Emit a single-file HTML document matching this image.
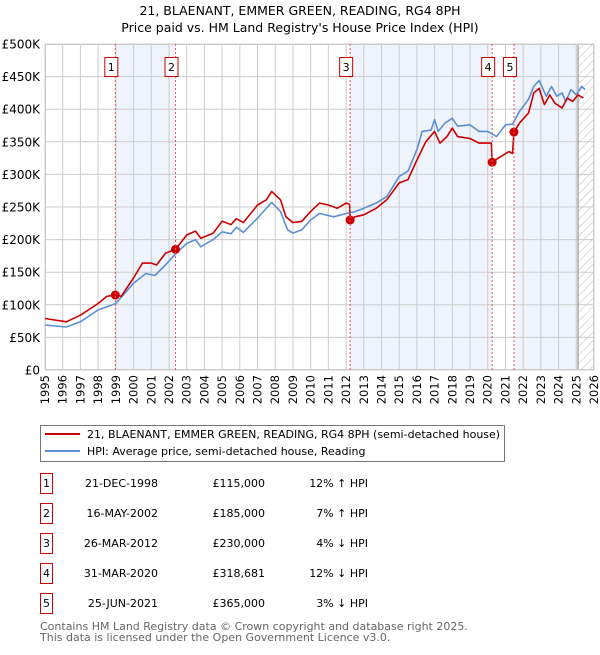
<!DOCTYPE html>
<html><head><meta charset="utf-8"><style>
body{margin:0;background:#fff;font-family:"Liberation Sans","DejaVu Sans",sans-serif;}
svg text{font-family:"DejaVu Sans","Liberation Sans",sans-serif;}
</style></head><body>
<svg id="chart" width="600" height="650" viewBox="0 0 600 650" xmlns="http://www.w3.org/2000/svg">
<text x="300" y="15" text-anchor="middle" font-size="12.5" fill="#000">21, BLAENANT, EMMER GREEN, READING, RG4 8PH</text>
<text x="300" y="32" text-anchor="middle" font-size="12.5" fill="#000">Price paid vs. HM Land Registry's House Price Index (HPI)</text>
<defs><pattern id="hatch" width="6" height="6" patternUnits="userSpaceOnUse" patternTransform="rotate(45)"><line x1="0" y1="0" x2="0" y2="6" stroke="#bbb" stroke-width="1"/></pattern></defs>
<g id="bands"></g><g id="grid"></g><g id="axes"></g><g id="series"></g><g id="markers"></g>
<g>
<rect x="40.5" y="425.5" width="464" height="36" fill="#fff" stroke="#777"/>
<line x1="45" y1="434" x2="80" y2="434" stroke="#cc0000" stroke-width="2"/>
<text x="87" y="438" font-size="11">21, BLAENANT, EMMER GREEN, READING, RG4 8PH (semi-detached house)</text>
<line x1="45" y1="451" x2="80" y2="451" stroke="#5b8fd4" stroke-width="2"/>
<text x="87" y="455" font-size="11">HPI: Average price, semi-detached house, Reading</text>
</g>
<g id="table"></g>
<text x="40" y="630" font-size="11" fill="#666">Contains HM Land Registry data © Crown copyright and database right 2025.</text>
<text x="40" y="641" font-size="11" fill="#666">This data is licensed under the Open Government Licence v3.0.</text>
</svg>
<script>
const hpiT=[1995,1996.2,1997,1998,1999,2000,2000.7,2001.2,2001.8,2002.4,2003,2003.5,2003.8,2004.5,2005,2005.5,2005.8,2006.2,2007,2007.8,2008.3,2008.7,2009,2009.5,2010,2010.5,2011.3,2012,2012.5,2013,2013.7,2014.3,2015,2015.5,2016,2016.3,2016.8,2017,2017.2,2017.6,2018,2018.3,2019,2019.5,2020,2020.5,2021,2021.4,2021.8,2022.3,2022.6,2022.9,2023.3,2023.6,2023.9,2024.2,2024.4,2024.7,2025.0,2025.3,2025.5];
const hpiV=[69,66,74,92,102,133,148,145,161,179,194,200,189,200,212,209,219,211,233,257,243,215,210,215,230,240,235,240,243,248,256,266,297,305,338,366,368,384,366,379,386,374,376,366,366,358,376,377,397,415,435,444,420,435,420,425,412,430,422,435,430];
const redT=[1995,1996.2,1997,1998,1998.5,1998.97,1999.3,2000,2000.5,2001,2001.3,2001.8,2002.37,2003,2003.5,2003.8,2004.5,2005,2005.5,2005.8,2006.2,2007,2007.5,2007.8,2008.3,2008.6,2009,2009.5,2010,2010.5,2011,2011.5,2012,2012.2,2012.23,2012.5,2013,2013.7,2014.3,2015,2015.5,2016,2016.5,2017,2017.3,2017.7,2018,2018.3,2019,2019.5,2020.2,2020.25,2020.6,2021.2,2021.4,2021.48,2021.8,2022.3,2022.6,2022.9,2023.2,2023.5,2023.8,2024.2,2024.5,2024.8,2025.1,2025.4];
const redV=[79,74,84,102,113,115,113,141,164,164,161,179,185,207,213,202,210,228,223,232,226,253,261,274,261,235,226,228,243,256,253,248,256,254,230,235,238,248,261,287,292,322,350,366,348,358,371,358,355,348,348,318.7,325,335,332,365,379,394,425,432,407,422,409,402,417,412,422,417];
const saleT=[1998.97,2002.37,2012.23,2020.25,2021.48];
const saleV=[115,185,230,318.681,365];
const saleDates=["21-DEC-1998","16-MAY-2002","26-MAR-2012","31-MAR-2020","25-JUN-2021"];
const salePrices=["£115,000","£185,000","£230,000","£318,681","£365,000"];
const saleHpi=["12% ↑ HPI","7% ↑ HPI","4% ↓ HPI","12% ↓ HPI","3% ↓ HPI"];
const yTicks=[0,50,100,150,200,250,300,350,400,450,500];
const yTickLabels=["£0","£50K","£100K","£150K","£200K","£250K","£300K","£350K","£400K","£450K","£500K"];
const xYears=[1995,1996,1997,1998,1999,2000,2001,2002,2003,2004,2005,2006,2007,2008,2009,2010,2011,2012,2013,2014,2015,2016,2017,2018,2019,2020,2021,2022,2023,2024,2025,2026];

const NS="http://www.w3.org/2000/svg";
const X0=45,X1=594,Y0=370,Y1=44;
const x=t=>X0+(t-1995)*(X1-X0)/31;
const y=v=>Y0-v*(Y0-Y1)/500;
function mk(tag,attrs,parent,txt){const e=document.createElementNS(NS,tag);for(const k in attrs)e.setAttribute(k,attrs[k]);if(txt!==undefined)e.textContent=txt;document.getElementById(parent).appendChild(e);return e;}

let b;
b=mk('rect',{x:x(saleT[0]),y:Y1,width:x(saleT[1])-x(saleT[0]),height:Y0-Y1,fill:'#eef3fc'},'bands');


b=mk('rect',{x:x(saleT[2]),y:Y1,width:x(saleT[3])-x(saleT[2]),height:Y0-Y1,fill:'#eef3fc'},'bands');


b=mk('rect',{x:x(saleT[4]),y:Y1,width:x(2025.1)-x(saleT[4]),height:Y0-Y1,fill:'#eef3fc'},'bands');


b=mk('rect',{x:x(2025.1),y:Y1,width:X1-x(2025.1),height:Y0-Y1,fill:'url(#hatch)'},'bands');



yTicks.forEach((v,i)=>{
 const l=mk('line',{x1:X0,x2:X1,y1:y(v),y2:y(v),stroke:'#cccccc','stroke-width':1},'grid');
 
 
 const t=mk('text',{x:X0-5,y:y(v)+4.5,'text-anchor':'end','font-size':12,fill:'#000'},'axes',yTickLabels[i]);
 
 
});
xYears.forEach(yr=>{
 const l=mk('line',{x1:x(yr),x2:x(yr),y1:Y1,y2:Y0,stroke:'#cccccc','stroke-width':1},'grid');
 
 
 const t=mk('text',{x:0,y:0,'text-anchor':'end','font-size':11.5,fill:'#000',transform:`translate(${x(yr)+4},${Y0+5}) rotate(-90)`},'axes',String(yr));
 
 
});
let gl=mk('line',{x1:x(2025.1),x2:x(2025.1),y1:Y1,y2:Y0,stroke:'#888','stroke-width':1},'grid');



saleT.forEach((t,i)=>{
 const l=mk('line',{x1:x(t),x2:x(t),y1:Y1,y2:Y0,stroke:'#ee5555','stroke-width':1,'stroke-dasharray':'2,2'},'markers');
 
 
 const r=mk('rect',{x:x(t)-10.5,y:57.5,width:13,height:19,fill:'#fff',stroke:'#cc0000'},'markers');
 
 
 const tx=mk('text',{x:x(t)-4,y:71,'text-anchor':'middle','font-size':11},'markers',String(i+1));
 
 
});

const pts=(T,V)=>T.map((t,i)=>x(t).toFixed(1)+','+y(V[i]).toFixed(1)).join(' ');
let p=mk('polyline',{points:pts(hpiT,hpiV),fill:'none',stroke:'#5b8fd4','stroke-width':1.6,'stroke-linejoin':'round'},'series');


p=mk('polyline',{points:pts(redT,redV),fill:'none',stroke:'#cc0000','stroke-width':1.6,'stroke-linejoin':'round'},'series');


saleT.forEach((t,i)=>{
 const c=mk('circle',{cx:x(t),cy:y(saleV[i]),r:4.5,fill:'#cc0000'},'series');
 
 
});
let br=mk('rect',{x:X0+0.5,y:Y1+0.5,width:X1-X0-1,height:Y0-Y1-1,fill:'none',stroke:'#cccccc'},'axes');



saleDates.forEach((d,i)=>{
 const cy=483+i*30;
 const r=mk('rect',{x:40.5,y:cy-9.5,width:12,height:20,fill:'#fff',stroke:'#cc0000'},'table');
 
 
 let t=mk('text',{x:46.5,y:cy+4,'text-anchor':'middle','font-size':11},'table',String(i+1));
 
 
 t=mk('text',{x:158,y:cy+4,'text-anchor':'end','font-size':11},'table',d);
 
 
 t=mk('text',{x:265,y:cy+4,'text-anchor':'end','font-size':11},'table',salePrices[i]);
 
 
 t=mk('text',{x:368,y:cy+4,'text-anchor':'end','font-size':11},'table',saleHpi[i]);
 
 
});
</script>
</body></html>
